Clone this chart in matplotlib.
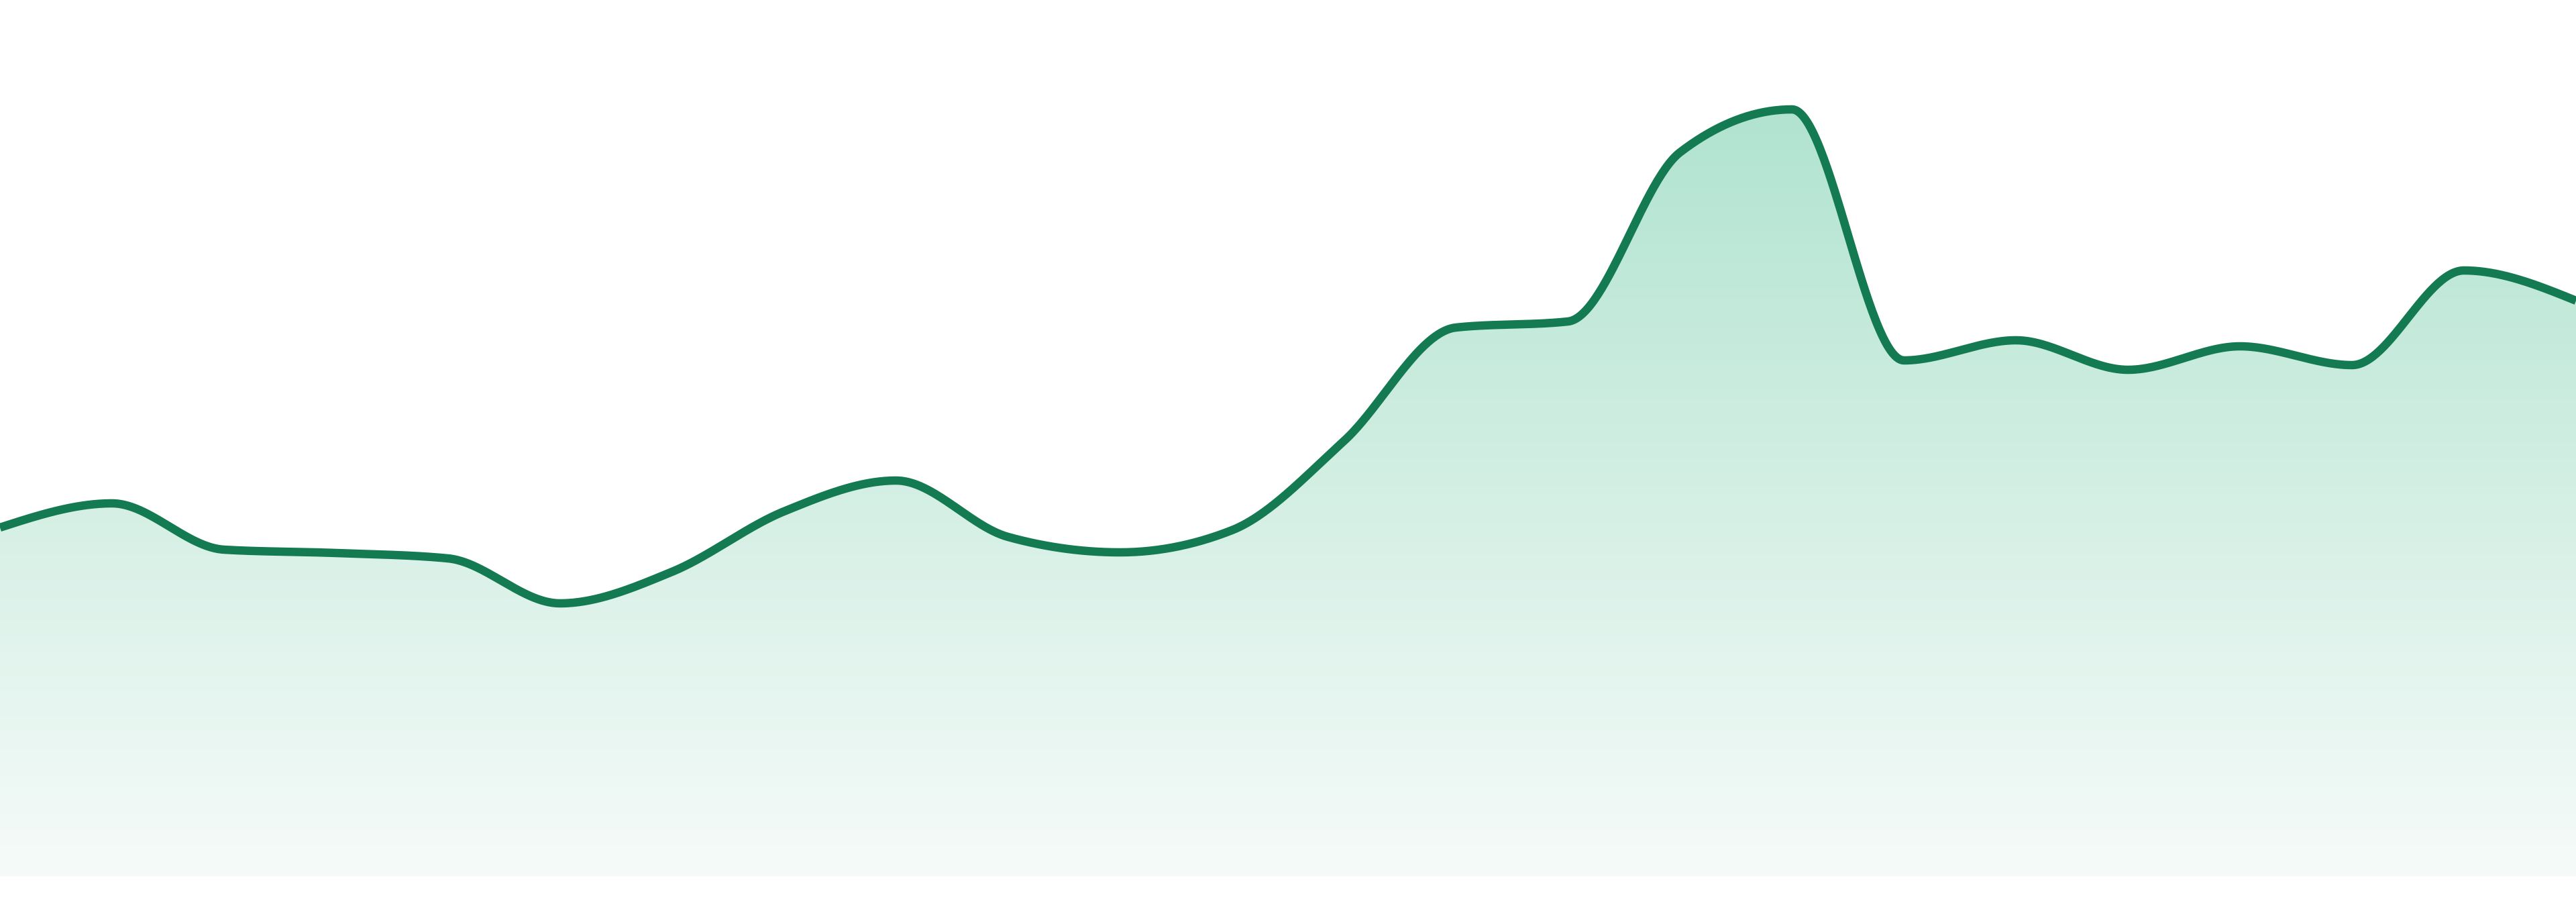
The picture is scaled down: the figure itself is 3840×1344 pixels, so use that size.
import numpy as np
import matplotlib
matplotlib.use("Agg")
import matplotlib.pyplot as plt
from matplotlib.patches import Polygon

# ---- data (24 evenly spaced observations) ----
idx = list(range(24))
values = [520, 556, 487, 482, 474, 407, 454, 544, 590, 506, 483, 516,
          649, 818, 827, 1079, 1143, 769, 799, 755, 790, 762, 903, 858]
y_range = [0, 1306]

line_color = "#137a51"
fill_top = (0.655, 0.878, 0.792)
fill_bottom = (0.965, 0.984, 0.976)


def monotone_x(xs, ys, n=60):
    xs = np.asarray(xs, float)
    ys = np.asarray(ys, float)
    h = np.diff(xs)
    s = np.diff(ys) / h
    m = len(xs)
    t = np.zeros(m)
    for i in range(1, m - 1):
        h0, h1 = h[i - 1], h[i]
        s0, s1 = s[i - 1], s[i]
        p = (s0 * h1 + s1 * h0) / (h0 + h1)
        t[i] = (np.sign(s0) + np.sign(s1)) * min(abs(s0), abs(s1), 0.5 * abs(p))
    t[0] = (3 * s[0] - t[1]) / 2
    t[-1] = (3 * s[-1] - t[-2]) / 2
    px, py = [], []
    for i in range(m - 1):
        u = np.linspace(0, 1, n, endpoint=(i == m - 2))
        dx = h[i]
        h00 = 2 * u**3 - 3 * u**2 + 1
        h10 = u**3 - 2 * u**2 + u
        h01 = -2 * u**3 + 3 * u**2
        h11 = u**3 - u**2
        px.append(xs[i] + u * dx)
        py.append(h00 * ys[i] + h10 * dx * t[i] + h01 * ys[i + 1] + h11 * dx * t[i + 1])
    return np.concatenate(px), np.concatenate(py)


W, H = 3840, 1344
fig = plt.figure(figsize=(W / 100, H / 100), dpi=100)
fig.patch.set_facecolor("white")
ax = fig.add_axes([0, 38 / H, 1, 1306 / H])
ax.set_xlim(idx[0], idx[-1])
ax.set_ylim(*y_range)
ax.axis("off")

cx, cy = monotone_x(idx, values)

# gradient fill under the curve
grad = np.linspace(0, 1, 512)[:, None]
top = np.array(fill_top)
bot = np.array(fill_bottom)
img = top[None, None, :] * (1 - grad[:, :, None]) + bot[None, None, :] * grad[:, :, None]
im = ax.imshow(img, extent=(idx[0], idx[-1], y_range[0], y_range[1]),
               origin="upper", aspect="auto", zorder=1, interpolation="bilinear")
poly_pts = np.column_stack([np.concatenate([[cx[0]], cx, [cx[-1]]]),
                            np.concatenate([[y_range[0]], cy, [y_range[0]]])])
clip = Polygon(poly_pts, closed=True, transform=ax.transData, facecolor="none", edgecolor="none")
ax.add_patch(clip)
im.set_clip_path(clip)

ax.plot(cx, cy, color=line_color, lw=12.5 * 72 / 100, solid_joinstyle="round",
        solid_capstyle="butt", zorder=3)

fig.savefig("out.png", dpi=100, facecolor="white")
